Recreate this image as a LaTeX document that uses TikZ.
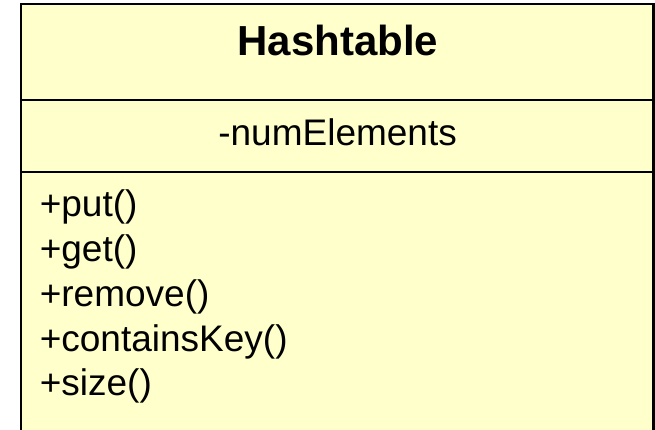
\documentclass[tikz,border=0pt]{standalone}
\usepackage{fontspec}
\setmainfont{Liberation Sans}
\definecolor{umlfill}{HTML}{FFFFCC}
\tikzset{
  umlline/.style={draw=black, line width=2.2pt},
  titletext/.style={inner sep=0pt, anchor=base, font=\fontsize{42}{50}\selectfont\bfseries},
  membertext/.style={inner sep=0pt, font=\fontsize{37}{44}\selectfont},
}
\begin{document}
\begin{tikzpicture}[x=1pt, y=-1pt]
  \clip (0,0) rectangle (655,429);
  % class box
  \coordinate (tl) at (21.3,4);
  \coordinate (br) at (653.5,445);
  \fill[umlfill] (tl) rectangle (br);
  \draw[umlline] (tl) rectangle (br);
  % compartments
  \coordinate (d1l) at (21.3,100);
  \coordinate (d1r) at (653.5,100);
  \coordinate (d2l) at (21.3,172);
  \coordinate (d2r) at (653.5,172);
  \draw[umlline] (d1l) -- (d1r);
  \draw[umlline] (d2l) -- (d2r);
  % texts
  \node[titletext] (title) at (337.8,55) {Hashtable};
  \node[membertext, anchor=base] (attr) at (337.6,145) {-numElements};
  \node[membertext, anchor=base west] (m1) at (39.6,216.5) {+put()};
  \node[membertext, anchor=base west] (m2) at (39.6,261) {+get()};
  \node[membertext, anchor=base west] (m3) at (39.6,306) {+remove()};
  \node[membertext, anchor=base west] (m4) at (39.6,351) {+containsKey()};
  \node[membertext, anchor=base west] (m5) at (39.6,395.5) {+size()};
\end{tikzpicture}
\end{document}
